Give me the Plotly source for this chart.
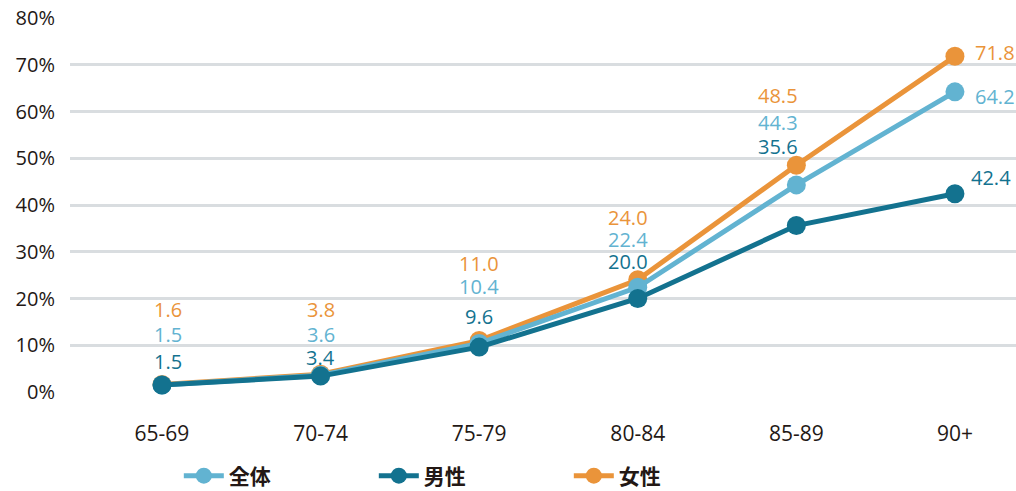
import plotly.graph_objects as go

# Age groups and rates (%) by sex
age_groups = ["65-69", "70-74", "75-79", "80-84", "85-89", "90+"]
total = [1.5, 3.6, 10.4, 22.4, 44.3, 64.2]
male = [1.5, 3.4, 9.6, 20.0, 35.6, 42.4]
female = [1.6, 3.8, 11.0, 24.0, 48.5, 71.8]
y_ticks = [0, 10, 20, 30, 40, 50, 60, 70, 80]
y_tick_text = ["0%", "10%", "20%", "30%", "40%", "50%", "60%", "70%", "80%"]

C_TOTAL = "#62b3d1"
C_MALE = "#13728f"
C_FEMALE = "#ea943a"
TEXT = "#231815"
FONT = "Open Sans"

# drawn bottom-to-top: female, total, male; legend order set by legendrank
series = [
    ("女性", female, C_FEMALE, 3),
    ("全体", total, C_TOTAL, 1),
    ("男性", male, C_MALE, 2),
]

fig = go.Figure()
for name, vals, col, rank in series:
    fig.add_trace(go.Scatter(
        x=age_groups, y=vals, name=name, mode="lines+markers",
        line=dict(color=col, width=5),
        marker=dict(color=col, size=19),
        legendrank=rank,
        cliponaxis=False,
    ))

# Stacked value labels above each group: pixel offsets from the top marker
# for (female, total, male), plus a horizontal nudge per group
stack_dy = [
    (-75, -50, -23),
    (-65, -40, -17),
    (-77, -54, -24),
    (-62, -40, -18),
    (-70, -43, -19),
]
stack_dx = [6, 0, 0, -10, -18]
for i in range(len(age_groups) - 1):
    top = max(total[i], male[i], female[i])
    for k, (vals, col) in enumerate([(female, C_FEMALE), (total, C_TOTAL), (male, C_MALE)]):
        fig.add_annotation(
            x=age_groups[i], y=top, text=f"{vals[i]:.1f}", showarrow=False,
            yshift=-stack_dy[i][k], xshift=stack_dx[i], borderpad=0,
            font=dict(family=FONT, size=20, color=col),
        )

# Labels to the right of the last group
last = len(age_groups) - 1
for vals, col, dx, dy in [(female, C_FEMALE, 19, 4), (total, C_TOTAL, 19, -5), (male, C_MALE, 15, 16)]:
    fig.add_annotation(
        x=age_groups[last], y=vals[last], text=f"{vals[last]:.1f}", showarrow=False,
        xanchor="left", xshift=dx, yshift=dy, borderpad=0,
        font=dict(family=FONT, size=20, color=col),
    )

fig.update_layout(
    width=1016, height=491,
    margin=dict(l=70, r=0, t=18, b=99),
    plot_bgcolor="white", paper_bgcolor="white",
    font=dict(family=FONT, size=18, color=TEXT),
    showlegend=True,
    legend=dict(
        orientation="h", xref="container", yref="container",
        x=0.176, y=1 - 476 / 491, xanchor="left", yanchor="middle",
        entrywidth=140, entrywidthmode="pixels",
        itemwidth=40,
        font=dict(family="Noto Sans CJK JP", size=21, color=TEXT, weight="bold"),
    ),
)
fig.update_xaxes(
    range=[-0.58, 5.385], showgrid=False, zeroline=False, showline=False,
    ticks="", ticklabelstandoff=27,
    tickfont=dict(family=FONT, size=21, color=TEXT),
)
fig.update_yaxes(
    range=[0, 80], tickvals=y_ticks, ticktext=y_tick_text,
    showgrid=True, gridcolor="#d9dde0", gridwidth=2.5,
    zeroline=False, showline=False, ticks="", ticklabelstandoff=14,
    tickfont=dict(family=FONT, size=20, color=TEXT),
)

fig.write_html("out.html")
